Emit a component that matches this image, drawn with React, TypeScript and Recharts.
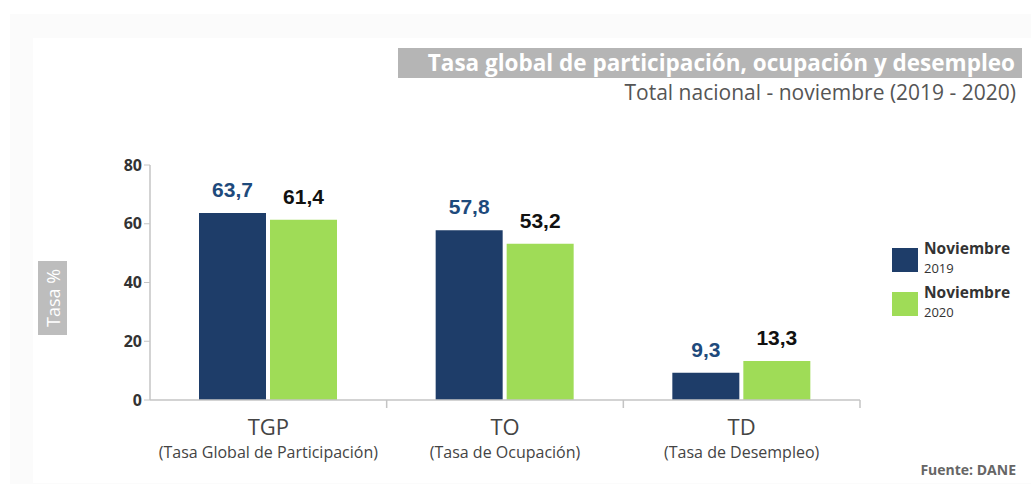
import { Bar, BarChart, LabelList, Legend, XAxis, YAxis } from 'recharts';

const categories = ['TGP', 'TO', 'TD'];
const categoryNames = ['(Tasa Global de Participación)', '(Tasa de Ocupación)', '(Tasa de Desempleo)'];
const nov2019 = [63.7, 57.8, 9.3];
const nov2020 = [61.4, 53.2, 13.3];
const yTicks = [0, 20, 40, 60, 80];

const data = categories.map((c, i) => ({
  name: c,
  full: categoryNames[i],
  y2019: nov2019[i],
  y2020: nov2020[i],
}));

const W = 1031;
const H = 495;
const PLOT_LEFT = 150;
const PLOT_RIGHT = 860;
const BAND = (PLOT_RIGHT - PLOT_LEFT) / categories.length;

const BLUE = '#1e3d69';
const GREEN = '#9fdc57';
const AXIS = '#c4c4c4';

const fmt = (v: number) => v.toFixed(1).replace('.', ',');

const CategoryTick = (props: any) => {
  const { x, y, payload, index } = props;
  const full = categoryNames[index] ?? data[index]?.full;
  return (
    <g>
      <line x1={x + BAND / 2} x2={x + BAND / 2} y1={y - 8} y2={y} stroke={AXIS} strokeWidth={1.5} />
      <text x={x} y={y + 27} textAnchor="middle" fontFamily="Open Sans" fontSize={22} fill="#444">
        {payload.value}
      </text>
      <text x={x} y={y + 50} textAnchor="middle" fontFamily="Open Sans" fontSize={16} fill="#444">
        {full}
      </text>
    </g>
  );
};

const LegendBox = () => (
  <div style={{ fontFamily: 'Open Sans', color: '#333' }}>
    {[
      { c: BLUE, y: '2019' },
      { c: GREEN, y: '2020' },
    ].map((it) => (
      <div key={it.y} style={{ display: 'flex', alignItems: 'flex-start', height: 44 }}>
        <div style={{ width: 26, height: 24, background: it.c, marginTop: 9, marginRight: 6 }} />
        <div>
          <div style={{ fontSize: 15.5, fontWeight: 700, lineHeight: '19px' }}>Noviembre</div>
          <div style={{ fontSize: 13, lineHeight: '18px', marginTop: 1 }}>{it.y}</div>
        </div>
      </div>
    ))}
  </div>
);

export default function App() {
  return (
    <div style={{ position: 'absolute', left: 0, top: 0, width: W, height: H, background: '#fff', overflow: 'hidden' }}>
      <div style={{ position: 'absolute', left: 10, top: 14, width: W - 10, height: 470, background: '#fbfbfb' }} />
      <div style={{ position: 'absolute', left: 33, top: 38, width: W - 33, height: 445, background: '#fff' }} />
      <div
        style={{
          position: 'absolute',
          left: 398,
          top: 48,
          width: 624,
          height: 30,
          background: '#b5b5b5',
          color: '#fff',
          fontFamily: 'Open Sans',
          fontWeight: 700,
          fontSize: 22.5,
          lineHeight: '30px',
          textAlign: 'right',
          paddingRight: 7,
          boxSizing: 'border-box',
          whiteSpace: 'nowrap',
        }}
      >
        Tasa global de participación, ocupación y desempleo
      </div>
      <div
        style={{
          position: 'absolute',
          right: 15,
          top: 78,
          fontFamily: 'Open Sans',
          fontSize: 21,
          color: '#555',
          whiteSpace: 'nowrap',
        }}
      >
        Total nacional - noviembre (2019 - 2020)
      </div>
      <div
        style={{
          position: 'absolute',
          left: 38,
          top: 261,
          width: 29,
          height: 74,
          background: '#bdbdbd',
        }}
      >
        <div
          style={{
            position: 'absolute',
            left: 14.5,
            top: 37,
            transform: 'translate(-50%, -50%) rotate(-90deg)',
            color: '#fff',
            fontFamily: 'Open Sans',
            fontSize: 18,
            whiteSpace: 'nowrap',
          }}
        >
          Tasa %
        </div>
      </div>
      <div
        style={{
          position: 'absolute',
          right: 15,
          top: 460,
          fontFamily: 'Open Sans',
          fontWeight: 700,
          fontSize: 14,
          color: '#666',
        }}
      >
        Fuente: DANE
      </div>
      <div style={{ position: 'absolute', left: 0, top: 0 }}>
        <BarChart
          width={W}
          height={H}
          data={data}
          margin={{ top: 165, right: W - PLOT_RIGHT, left: PLOT_LEFT - 50, bottom: 35 }}
          barGap={4}
          barCategoryGap={49}
        >
          <XAxis
            dataKey="name"
            height={60}
            tickLine={false}
            axisLine={{ stroke: AXIS, strokeWidth: 1.5 }}
            tick={<CategoryTick />}
            interval={0}
          />
          <YAxis
            width={50}
            domain={[0, 80]}
            ticks={yTicks}
            interval={0}
            tickSize={6}
            axisLine={{ stroke: AXIS, strokeWidth: 1.5 }}
            tickLine={{ stroke: AXIS }}
            tick={{ fontFamily: 'Open Sans', fontWeight: 700, fontSize: 16, fill: '#333' }}
          />
          <Legend
            layout="vertical"
            align="center"
            verticalAlign="middle"
            content={<LegendBox />}
            wrapperStyle={{ left: 892, top: 239, width: 139 }}
          />
          <Bar dataKey="y2019" name="Noviembre 2019" fill={BLUE} isAnimationActive={false}>
            <LabelList
              dataKey="y2019"
              position="top"
              offset={16}
              formatter={(v: any) => fmt(Number(v))}
              style={{ fontFamily: 'Liberation Sans', fontWeight: 700, fontSize: 21, fill: '#1e4a7c' }}
            />
          </Bar>
          <Bar dataKey="y2020" name="Noviembre 2020" fill={GREEN} isAnimationActive={false}>
            <LabelList
              dataKey="y2020"
              position="top"
              offset={16}
              formatter={(v: any) => fmt(Number(v))}
              style={{ fontFamily: 'Liberation Sans', fontWeight: 700, fontSize: 21, fill: '#111' }}
            />
          </Bar>
        </BarChart>
      </div>
    </div>
  );
}
